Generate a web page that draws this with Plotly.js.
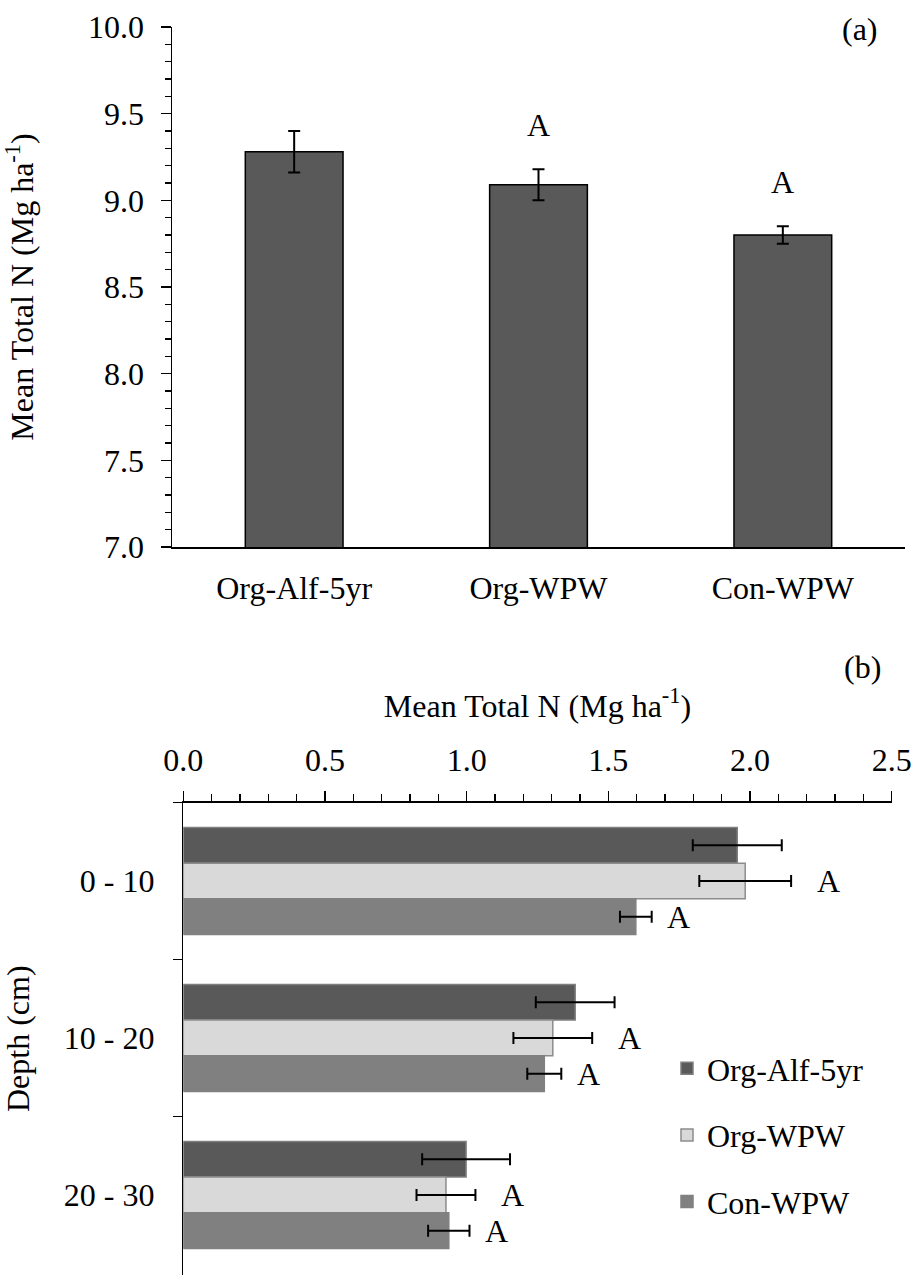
<!DOCTYPE html>
<html>
<head>
<meta charset="utf-8">
<script src="https://cdn.plot.ly/plotly-3.0.1.min.js"></script>
<style>
  html, body { margin: 0; padding: 0; background: #fff; }
  #chart { width: 916px; height: 1275px; }
</style>
</head>
<body>
<div id="chart"></div>
<script>
// (a) whole-profile mean total N by treatment
const treatments = ['Org-Alf-5yr', 'Org-WPW', 'Con-WPW'];
const totalN = [9.28, 9.09, 8.80];
const totalNErr = [0.12, 0.09, 0.05];
const totalNLetters = ['', 'A', 'A'];

// (b) mean total N by depth increment
const depths = ['0 - 10', '10 - 20', '20 - 30'];
const orgAlfN = [1.955, 1.383, 0.998];
const orgAlfErr = [0.157, 0.139, 0.155];
const orgWpwN = [1.983, 1.304, 0.927];
const orgWpwErr = [0.162, 0.139, 0.104];
const conWpwN = [1.597, 1.274, 0.937];
const conWpwErr = [0.056, 0.060, 0.073];
const orgWpwLetters = ['A', 'A', 'A'];
const conWpwLetters = ['A', 'A', 'A'];

const FONT = 'Liberation Serif, Times New Roman, serif';
const FS = 32;
const BARGAP = 0.318;
const slot = (1 - BARGAP) / 3;

const W = 916, H = 1275;
const M = { l: 172, r: 11, t: 27, b: 0 };
const pw = W - M.l - M.r, ph = H - M.t - M.b;
const px = x => (x - M.l) / pw;          // page x -> paper x
const py = y => (H - M.b - y) / ph;      // page y -> paper y

const errStyle = (arr) => ({
  type: 'data', array: arr, visible: true,
  color: '#000', thickness: 2, width: 6
});

const traces = [
  {
    type: 'bar', x: treatments, y: totalN, xaxis: 'x', yaxis: 'y',
    width: 0.4, showlegend: false,
    marker: { color: '#595959', line: { color: '#000', width: 1.5 } },
    error_y: errStyle(totalNErr), hoverinfo: 'x+y'
  },
  {
    type: 'bar', orientation: 'h', name: 'Org-Alf-5yr', legendgroup: 'g1',
    x: orgAlfN, y: depths, xaxis: 'x2', yaxis: 'y2',
    marker: { color: '#595959', line: { color: '#7f7f7f', width: 1.5 } },
    error_x: errStyle(orgAlfErr)
  },
  {
    type: 'bar', orientation: 'h', name: 'Org-WPW', legendgroup: 'g2',
    x: orgWpwN, y: depths, xaxis: 'x2', yaxis: 'y2',
    marker: { color: '#d9d9d9', line: { color: '#8c8c8c', width: 1.5 } },
    error_x: errStyle(orgWpwErr)
  },
  {
    type: 'bar', orientation: 'h', name: 'Con-WPW', legendgroup: 'g3',
    x: conWpwN, y: depths, xaxis: 'x2', yaxis: 'y2',
    marker: { color: '#808080', line: { color: '#808080', width: 1.5 } },
    error_x: errStyle(conWpwErr)
  }
];

const annotations = [];
const letterFont = { family: FONT, size: FS, color: '#000' };

// significance letters above the (a) bars
treatments.forEach((t, i) => {
  if (!totalNLetters[i]) return;
  annotations.push({
    xref: 'x', yref: 'y', x: t, y: totalN[i] + totalNErr[i],
    yshift: 44, text: totalNLetters[i], showarrow: false,
    font: letterFont, xanchor: 'center', yanchor: 'middle'
  });
});

// significance letters beside the (b) bars
depths.forEach((d, i) => {
  annotations.push({
    xref: 'x2', yref: 'y2', x: orgWpwN[i] + orgWpwErr[i], y: i,
    xshift: 37, text: orgWpwLetters[i], showarrow: false,
    font: letterFont, xanchor: 'center', yanchor: 'middle'
  });
  annotations.push({
    xref: 'x2', yref: 'y2', x: conWpwN[i] + conWpwErr[i], y: i + slot,
    xshift: 27, text: conWpwLetters[i], showarrow: false,
    font: letterFont, xanchor: 'center', yanchor: 'middle'
  });
});

// panel tags
annotations.push({
  xref: 'paper', yref: 'paper', x: px(860), y: py(29), text: '(a)',
  showarrow: false, font: letterFont, xanchor: 'center', yanchor: 'middle'
});
annotations.push({
  xref: 'paper', yref: 'paper', x: px(862), y: py(667), text: '(b)',
  showarrow: false, font: letterFont, xanchor: 'center', yanchor: 'middle'
});

const layout = {
  width: W, height: H,
  margin: M,
  paper_bgcolor: '#fff', plot_bgcolor: 'rgba(0,0,0,0)',
  font: { family: FONT, size: FS, color: '#000' },
  barmode: 'group', bargap: BARGAP, bargroupgap: 0,
  showlegend: true,
  legend: {
    x: px(667), y: py(1041), xanchor: 'left', yanchor: 'top',
    traceorder: 'grouped', tracegroupgap: 22,
    font: { family: FONT, size: FS, color: '#000' },
    bgcolor: 'rgba(0,0,0,0)'
  },
  xaxis: {
    domain: [0, 1], anchor: 'y', type: 'category',
    showline: true, linecolor: '#000', linewidth: 1.5,
    ticks: '', showgrid: false, zeroline: false,
    ticklabelstandoff: 12
  },
  yaxis: {
    domain: [py(547), 1], anchor: 'x', range: [7, 10],
    showline: true, linecolor: '#000', linewidth: 1.5,
    ticks: 'outside', ticklen: 10, tickwidth: 1.5, tickcolor: '#000',
    dtick: 0.5, tick0: 7, tickformat: '.1f', ticklabelstandoff: 10,
    minor: { dtick: 0.1, ticks: 'outside', ticklen: 6, tickwidth: 1.5, tickcolor: '#000', showgrid: false },
    showgrid: false, zeroline: false,
    title: { text: 'Mean Total N (Mg ha<sup>-1</sup>)', standoff: 46, font: { family: FONT, size: FS } }
  },
  xaxis2: {
    domain: [px(183.3), px(891.7)], anchor: 'y2', side: 'top', range: [0, 2.5],
    showline: true, linecolor: '#000', linewidth: 1.5,
    ticks: 'outside', ticklen: 10, tickwidth: 1.5, tickcolor: '#000',
    dtick: 0.5, tick0: 0, tickformat: '.1f', ticklabelstandoff: 7,
    minor: { dtick: 0.1, ticks: 'outside', ticklen: 7, tickwidth: 1.5, tickcolor: '#000', showgrid: false },
    showgrid: false, zeroline: false,
    title: { text: 'Mean Total N (Mg ha<sup>-1</sup>)', standoff: 15, font: { family: FONT, size: FS } }
  },
  yaxis2: {
    domain: [0, py(802.5)], anchor: 'x2', type: 'category',
    range: [2.51, -0.5],
    showline: true, linecolor: '#000', linewidth: 1.5,
    ticks: 'outside', ticklen: 9, tickwidth: 1.5, tickcolor: '#000',
    tickson: 'boundaries', ticklabelstandoff: 21,
    showgrid: false, zeroline: false,
    title: { text: 'Depth (cm)', standoff: 25, font: { family: FONT, size: FS } }
  },
  annotations: annotations
};

Plotly.newPlot('chart', traces, layout, { displayModeBar: false, staticPlot: true });
</script>
</body>
</html>
